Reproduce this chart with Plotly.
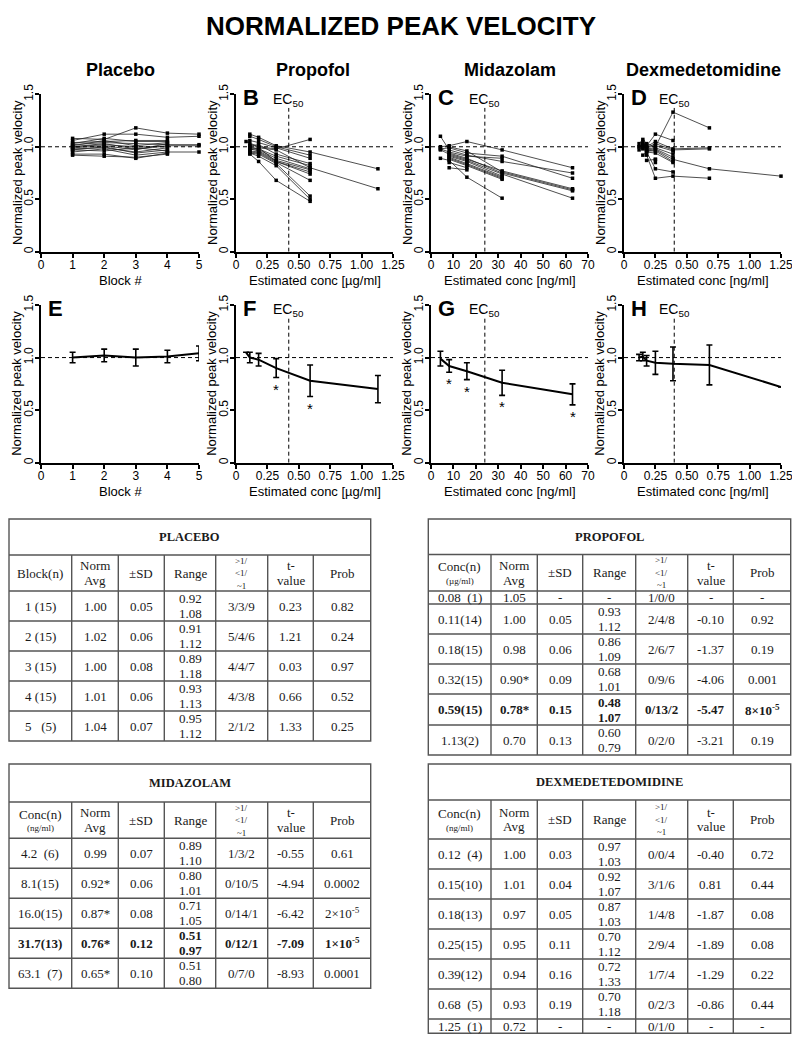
import plotly.graph_objects as go

# The page body adds an 8px offset; the figure is sized to fill the rest of the window.
OFF = 8
W, H = 800 - OFF, 1043 - OFF
def fx(p): return (p - OFF) / W
def fy(p): return 1 - (p - OFF) / H

# ---------------- DATA ----------------
placebo_blocks = [1, 2, 3, 4, 5]
placebo_subjects = [
    [1.08, 1.07, 1.18, 1.13, 1.12],
    [1.06, 1.12, 1.12, 1.09, 1.10],
    [1.04, 1.05, 1.06, 1.06, None],
    [1.03, 1.08, 1.05, 1.05, None],
    [1.02, 1.04, 1.03, 1.02, 1.02],
    [1.01, 1.06, 1.01, 1.04, None],
    [1.00, 1.03, 0.98, 1.01, 1.01],
    [1.00, 1.02, 1.00, 1.00, None],
    [0.99, 1.01, 0.97, 1.03, None],
    [0.98, 0.99, 0.95, 0.99, None],
    [0.97, 1.00, 0.94, 0.97, None],
    [0.97, 0.96, 0.99, 0.96, None],
    [0.95, 0.98, 0.92, 0.95, 0.95],
    [0.93, 0.93, 0.89, 0.94, None],
    [0.92, 0.91, 0.90, 0.93, None],
]

propofol_conc = [0.08, 0.11, 0.18, 0.32, 0.59, 1.13]
propofol_subjects = [
    [1.05, None, 1.00, 0.98, 1.07, None],
    [None, 1.12, 1.09, 1.01, 0.95, 0.79],
    [None, 1.10, 1.07, 1.00, 0.92, None],
    [None, 1.06, 1.04, 0.99, 0.89, None],
    [None, 1.03, 0.99, 0.97, 0.80, 0.60],
    [None, 1.01, 1.02, 0.93, 0.84, None],
    [None, 1.00, 0.98, 0.91, 0.82, None],
    [None, 0.99, 0.97, 0.89, 0.79, None],
    [None, 0.98, 0.96, 0.87, 0.78, None],
    [None, 0.97, 0.99, 0.86, 0.76, None],
    [None, 0.96, 0.95, 0.86, 0.74, None],
    [None, 0.95, 0.94, 0.85, 0.68, None],
    [None, 0.94, 0.93, 0.84, 0.53, None],
    [None, 0.94, 0.91, 0.82, 0.50, None],
    [None, 0.93, 0.86, 0.68, 0.48, None],
]

midazolam_conc = [4.2, 8.1, 16.0, 31.7, 63.1]
midazolam_subjects = [
    [1.10, 0.97, 0.92, 0.86, 0.75],
    [1.00, 1.01, 1.05, 0.97, 0.80],
    [0.98, 0.99, 0.94, 0.91, 0.70],
    [0.98, 0.95, 0.91, 0.89, None],
    [0.97, 0.93, 0.88, 0.77, 0.60],
    [0.89, 0.87, 0.71, 0.51, None],
    [None, 1.00, 0.96, 0.76, 0.59],
    [None, 0.94, 0.89, 0.75, 0.58],
    [None, 0.92, 0.87, 0.74, 0.51],
    [None, 0.91, 0.86, 0.72, None],
    [None, 0.90, 0.84, 0.71, None],
    [None, 0.89, 0.83, 0.70, None],
    [None, 0.88, 0.82, 0.69, None],
    [None, 0.85, 0.80, None, None],
    [None, 0.80, 0.78, None, None],
]

dexmed_conc = [0.12, 0.15, 0.18, 0.25, 0.39, 0.68, 1.25]
dexmed_subjects = [
    [1.03, 1.07, 1.03, 1.00, 1.33, 1.18, None],
    [1.00, 1.05, 1.01, 1.12, 1.06, None, None],
    [1.00, 1.03, 1.00, 1.05, 0.98, 0.99, None],
    [0.97, 1.02, 0.99, 1.03, 0.97, 0.98, None],
    [None, 1.01, 0.99, 1.01, 0.96, None, None],
    [None, 1.01, 0.98, 0.99, 0.93, None, None],
    [None, 1.00, 0.97, 0.98, 0.90, None, None],
    [None, 0.99, 0.96, 0.97, 0.88, 0.79, 0.72],
    [None, 0.98, 0.96, 0.96, 0.86, None, None],
    [None, 0.92, 0.95, 0.94, 0.85, None, None],
    [None, None, 0.95, 0.79, 0.76, None, None],
    [None, None, 0.92, 0.70, 0.72, 0.70, None],
    [None, None, 0.87, 0.88, None, None, None],
    [None, None, None, 0.88, None, None, None],
    [None, None, None, 0.85, None, None, None],
]

placebo_mean = [1.00, 1.02, 1.00, 1.01, 1.04]
placebo_sd = [0.05, 0.06, 0.08, 0.06, 0.07]
placebo_sig = [False, False, False, False, False]

propofol_mean = [1.05, 1.00, 0.98, 0.90, 0.78, 0.70]
propofol_sd = [None, 0.05, 0.06, 0.09, 0.15, 0.13]
propofol_sig = [False, False, False, True, True, False]

midazolam_mean = [0.99, 0.92, 0.87, 0.76, 0.65]
midazolam_sd = [0.07, 0.06, 0.08, 0.12, 0.10]
midazolam_sig = [False, True, True, True, True]

dexmed_mean = [1.00, 1.01, 0.97, 0.95, 0.94, 0.93, 0.72]
dexmed_sd = [0.03, 0.04, 0.05, 0.11, 0.16, 0.19, None]
dexmed_sig = [False] * 7

ec50 = {"propofol": 0.42, "midazolam": 24.0, "dexmed": 0.40}

placebo_rows = [
    ["1 (15)", "1.00", "0.05", "0.92\n1.08", "3/3/9", "0.23", "0.82"],
    ["2 (15)", "1.02", "0.06", "0.91\n1.12", "5/4/6", "1.21", "0.24"],
    ["3 (15)", "1.00", "0.08", "0.89\n1.18", "4/4/7", "0.03", "0.97"],
    ["4 (15)", "1.01", "0.06", "0.93\n1.13", "4/3/8", "0.66", "0.52"],
    ["5\u00a0\u00a0\u00a0(5)", "1.04", "0.07", "0.95\n1.12", "2/1/2", "1.33", "0.25"],
]
propofol_rows = [
    ["0.08\u00a0\u00a0(1)", "1.05", "-", "-", "1/0/0", "-", "-"],
    ["0.11(14)", "1.00", "0.05", "0.93\n1.12", "2/4/8", "-0.10", "0.92"],
    ["0.18(15)", "0.98", "0.06", "0.86\n1.09", "2/6/7", "-1.37", "0.19"],
    ["0.32(15)", "0.90*", "0.09", "0.68\n1.01", "0/9/6", "-4.06", "0.001"],
    ["0.59(15)", "0.78*", "0.15", "0.48\n1.07", "0/13/2", "-5.47", "8×10<sup>-5</sup>"],
    ["1.13(2)", "0.70", "0.13", "0.60\n0.79", "0/2/0", "-3.21", "0.19"],
]
midazolam_rows = [
    ["4.2\u00a0\u00a0(6)", "0.99", "0.07", "0.89\n1.10", "1/3/2", "-0.55", "0.61"],
    ["8.1(15)", "0.92*", "0.06", "0.80\n1.01", "0/10/5", "-4.94", "0.0002"],
    ["16.0(15)", "0.87*", "0.08", "0.71\n1.05", "0/14/1", "-6.42", "2×10<sup>-5</sup>"],
    ["31.7(13)", "0.76*", "0.12", "0.51\n0.97", "0/12/1", "-7.09", "1×10<sup>-5</sup>"],
    ["63.1\u00a0\u00a0(7)", "0.65*", "0.10", "0.51\n0.80", "0/7/0", "-8.93", "0.0001"],
]
dexmed_rows = [
    ["0.12\u00a0\u00a0(4)", "1.00", "0.03", "0.97\n1.03", "0/0/4", "-0.40", "0.72"],
    ["0.15(10)", "1.01", "0.04", "0.92\n1.07", "3/1/6", "0.81", "0.44"],
    ["0.18(13)", "0.97", "0.05", "0.87\n1.03", "1/4/8", "-1.87", "0.08"],
    ["0.25(15)", "0.95", "0.11", "0.70\n1.12", "2/9/4", "-1.89", "0.08"],
    ["0.39(12)", "0.94", "0.16", "0.72\n1.33", "1/7/4", "-1.29", "0.22"],
    ["0.68\u00a0\u00a0(5)", "0.93", "0.19", "0.70\n1.18", "0/2/3", "-0.86", "0.44"],
    ["1.25\u00a0\u00a0(1)", "0.72", "-", "-", "0/1/0", "-", "-"],
]

# ---------------- LAYOUT GEOMETRY ----------------
SANS = "Arial, Liberation Sans, sans-serif"
SERIF = "Liberation Serif, Times New Roman, serif"

col_x = [[41, 199], [236, 393], [431, 588], [624, 781]]
row_y = [[94.3, 251.7], [305, 462.7]]

fig = go.Figure()
layout = dict(width=W, height=H, autosize=False,
              margin=dict(l=0, r=0, t=0, b=0, pad=0, autoexpand=False),
              paper_bgcolor="white", plot_bgcolor="white", showlegend=False,
              font=dict(family=SANS, color="black"))
annotations = []
shapes = []

def note(text, x, y, size, family=SANS, xanchor="center", yanchor="middle", angle=0,
         xref="paper", yref="paper", color="black"):
    if xref == "paper":
        x = fx(x)
    if yref == "paper":
        y = fy(y)
    annotations.append(dict(text=text, x=x, y=y, xref=xref, yref=yref, xanchor=xanchor,
                            yanchor=yanchor, textangle=angle, showarrow=False,
                            font=dict(size=size, family=family, color=color)))

xcfg = [
    dict(range=[0, 5], tickvals=[0, 1, 2, 3, 4, 5], ticktext=["0", "1", "2", "3", "4", "5"], title="Block #"),
    dict(range=[0, 1.25], tickvals=[0, 0.25, 0.5, 0.75, 1.0, 1.25],
         ticktext=["0", "0.25", "0.50", "0.75", "1.00", "1.25"], title="Estimated conc [µg/ml]"),
    dict(range=[0, 70], tickvals=[0, 10, 20, 30, 40, 50, 60, 70],
         ticktext=["0", "10", "20", "30", "40", "50", "60", "70"], title="Estimated conc [ng/ml]"),
    dict(range=[0, 1.25], tickvals=[0, 0.25, 0.5, 0.75, 1.0, 1.25],
         ticktext=["0", "0.25", "0.50", "0.75", "1.00", "1.25"], title="Estimated conc [ng/ml]"),
]
ec_list = [None, ec50["propofol"], ec50["midazolam"], ec50["dexmed"]]
letters = [[None, "B", "C", "D"], ["E", "F", "G", "H"]]
titles = ["Placebo", "Propofol", "Midazolam", "Dexmedetomidine"]

spag_x = [placebo_blocks, propofol_conc, midazolam_conc, dexmed_conc]
spag_y = [placebo_subjects, propofol_subjects, midazolam_subjects, dexmed_subjects]
mean_y = [placebo_mean, propofol_mean, midazolam_mean, dexmed_mean]
sd_y = [placebo_sd, propofol_sd, midazolam_sd, dexmed_sd]
sig_y = [placebo_sig, propofol_sig, midazolam_sig, dexmed_sig]
DASH = "4px,3px"

k = 0
for r in range(2):
    for c in range(4):
        k += 1
        xn = "x" if k == 1 else f"x{k}"
        yn = "y" if k == 1 else f"y{k}"
        xa = "xaxis" if k == 1 else f"xaxis{k}"
        ya = "yaxis" if k == 1 else f"yaxis{k}"
        x0p, x1p = col_x[c]
        y0p, y1p = row_y[r]
        cfg = xcfg[c]
        layout[xa] = dict(domain=[fx(x0p), fx(x1p)], anchor=yn, range=cfg["range"],
                          tickmode="array", tickvals=cfg["tickvals"], ticktext=cfg["ticktext"],
                          showline=True, linewidth=2, linecolor="black", ticks="outside",
                          ticklen=4, tickwidth=1.5, tickcolor="black", showgrid=False,
                          zeroline=False, tickfont=dict(size=12, family=SANS), fixedrange=True,
                          automargin=False, ticklabelstandoff=-3)
        layout[ya] = dict(domain=[fy(y1p), fy(y0p)], anchor=xn, range=[0, 1.5],
                          tickmode="array", tickvals=[0, 0.5, 1.0, 1.5],
                          ticktext=["0", "0.5", "1.0", "1.5"], tickangle=-90,
                          showline=True, linewidth=2, linecolor="black", ticks="outside",
                          ticklen=4, tickwidth=1.5, tickcolor="black", showgrid=False,
                          zeroline=False, tickfont=dict(size=12, family=SANS), fixedrange=True,
                          automargin=False, ticklabelstandoff=-3)
        note("Normalized peak velocity", x0p - 24, (y0p + y1p) / 2, 13, angle=-90)
        note(cfg["title"], (x0p + x1p) / 2, y1p + 29, 13)
        shapes.append(dict(type="line", xref=f"{xn} domain", yref=yn, x0=0, x1=1, y0=1, y1=1,
                           line=dict(color="black", width=1, dash=DASH)))
        if ec_list[c] is not None:
            shapes.append(dict(type="line", xref=xn, yref=yn, x0=ec_list[c], x1=ec_list[c], y0=0, y1=1.37,
                               line=dict(color="black", width=1, dash=DASH)))
            note("EC<sub>50</sub>", ec_list[c], 1.45, 14, xref=xn, yref=yn)
        if letters[r][c]:
            note(f"<b>{letters[r][c]}</b>", x0p + 5, y0p + 3.5, 22, xanchor="left")
        xs = spag_x[c]
        if r == 0:
            for subj in spag_y[c]:
                px_ = [xv for xv, yv in zip(xs, subj) if yv is not None]
                py_ = [yv for yv in subj if yv is not None]
                fig.add_trace(go.Scatter(x=px_, y=py_, xaxis=xn, yaxis=yn, mode="lines+markers",
                                         line=dict(color="#222", width=0.8),
                                         marker=dict(symbol="square", size=3.5, color="black"),
                                         cliponaxis=False, hoverinfo="skip"))
        else:
            fig.add_trace(go.Scatter(x=xs, y=mean_y[c], xaxis=xn, yaxis=yn, mode="lines",
                                     line=dict(color="black", width=2),
                                     error_y=dict(type="data", array=sd_y[c], visible=True,
                                                  thickness=1.6, width=3, color="black"),
                                     cliponaxis=False, hoverinfo="skip"))
            for xv, mv, sv, sg in zip(xs, mean_y[c], sd_y[c], sig_y[c]):
                if sg:
                    note("*", xv, mv - sv - 0.01, 15, xref=xn, yref=yn, yanchor="top")

title_cx = [120, 313, 510, 703]
for t, cx in zip(titles, title_cx):
    note(f"<b>{t}</b>", cx, 70, 18)

note("<b>NORMALIZED PEAK VELOCITY</b>", 401, 8.5, 26, family="Liberation Sans, Arial", yanchor="top")

# ---------------- TABLES ----------------
LINE = dict(color="#555", width=1.4)

def txt(s, x, y, size=13, bold=False):
    if bold:
        s = f"<b>{s}</b>"
    note(s, x, y, size, family=SERIF, color="#1a1a1a")

def lines_in_cell(lines, cx, cy, size, gap, bold=False):
    n = len(lines)
    for i, s in enumerate(lines):
        txt(s, cx, cy + (i - (n - 1) / 2) * gap, size, bold)

def draw_table(title, cols, rows_y, col1_head, unit, rows, bold_idx=None):
    x0, x1 = cols[0], cols[-1]
    shapes.append(dict(type="rect", xref="paper", yref="paper", x0=fx(x0), x1=fx(x1),
                       y0=fy(rows_y[0]), y1=fy(rows_y[-1]), line=LINE))
    for yv in rows_y[1:-1]:
        shapes.append(dict(type="line", xref="paper", yref="paper", x0=fx(x0), x1=fx(x1),
                           y0=fy(yv), y1=fy(yv), line=LINE))
    for xv in cols[1:-1]:
        shapes.append(dict(type="line", xref="paper", yref="paper", x0=fx(xv), x1=fx(xv),
                           y0=fy(rows_y[1]), y1=fy(rows_y[-1]), line=LINE))
    txt(title, (x0 + x1) / 2, (rows_y[0] + rows_y[1]) / 2, size=12.5, bold=True)
    hc = (rows_y[1] + rows_y[2]) / 2
    cc = [(cols[i] + cols[i + 1]) / 2 for i in range(7)]
    if unit:
        txt(col1_head, cc[0], hc - 6, 13)
        txt(unit, cc[0], hc + 8, 9)
    else:
        txt(col1_head, cc[0], hc, 13)
    lines_in_cell(["Norm", "Avg"], cc[1], hc, 13, 14.5)
    txt("±SD", cc[2], hc, 13)
    txt("Range", cc[3], hc, 13)
    lines_in_cell(["&gt;1/", "&lt;1/", "~1"], cc[4], hc, 9, 12.5)
    lines_in_cell(["t-", "value"], cc[5], hc, 13, 14.5)
    txt("Prob", cc[6], hc, 13)
    for ri, row in enumerate(rows):
        ry = (rows_y[ri + 2] + rows_y[ri + 3]) / 2
        bold = (ri == bold_idx)
        for ci, cell in enumerate(row):
            parts = cell.split("\n")
            lines_in_cell(parts, cc[ci], ry, 13, 15, bold)

left_cols = [9, 71.7, 118.3, 164.3, 215.7, 267.7, 313.3, 370.7]
right_cols = [428.3, 491, 537.3, 582.7, 635.7, 687.7, 733.3, 790.7]

draw_table("PLACEBO", left_cols, [519, 555, 591, 621, 651, 681, 711, 741],
           "Block(n)", None, placebo_rows)
draw_table("PROPOFOL", right_cols, [519, 554.5, 591, 604, 634, 664, 694, 725, 755],
           "Conc(n)", "(µg/ml)", propofol_rows, bold_idx=4)
draw_table("MIDAZOLAM", left_cols, [764, 802, 838.3, 868.3, 898.3, 928.3, 958.3, 988.3],
           "Conc(n)", "(ng/ml)", midazolam_rows, bold_idx=3)
draw_table("DEXMEDETEDOMIDINE", right_cols, [764, 800, 839, 869, 899, 929, 959, 989, 1019, 1033.3],
           "Conc(n)", "(ng/ml)", dexmed_rows)

layout["annotations"] = annotations
layout["shapes"] = shapes
fig.update_layout(**layout)
fig.write_html("out.html")
